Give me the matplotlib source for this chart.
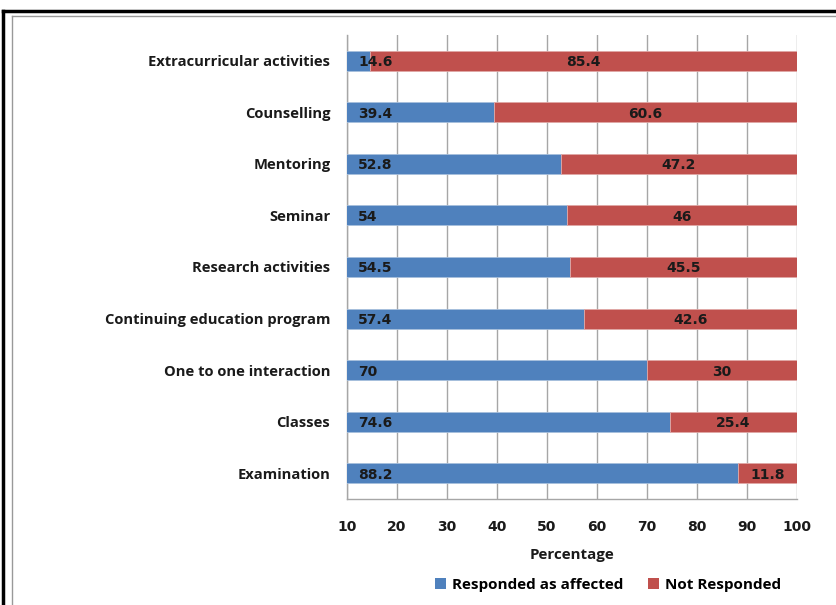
import matplotlib
matplotlib.use("Agg")
import matplotlib.pyplot as plt
from matplotlib.lines import Line2D
from matplotlib.patches import Patch

categories = ["Extracurricular activities", "Counselling", "Mentoring", "Seminar",
              "Research activities", "Continuing education program",
              "One to one interaction", "Classes", "Examination"]
responded = [14.6, 39.4, 52.8, 54, 54.5, 57.4, 70, 74.6, 88.2]
not_responded = [85.4, 60.6, 47.2, 46, 45.5, 42.6, 30, 25.4, 11.8]
xticks = [10, 20, 30, 40, 50, 60, 70, 80, 90, 100]

BLUE = "#4F81BD"
RED = "#C0504D"
TXT = "#1a1a1a"
plt.rcParams["font.family"] = ["Open Sans", "DejaVu Sans"]
WIDE = ["DejaVu Sans"]   # numbers look wide, like Verdana

fig = plt.figure(figsize=(8.37, 6.05), dpi=100)
ax = fig.add_axes([347 / 837, 1 - 499 / 605, 450 / 837, 464 / 605])

y = list(range(len(categories)))
ax.barh(y, responded, height=0.39, color=BLUE, edgecolor="#a7bfdc",
        linewidth=0.6, zorder=3)
ax.barh(y, not_responded, left=responded, height=0.39, color=RED,
        edgecolor="#e0a8a6", linewidth=0.6, zorder=3)

for i, (b, r) in enumerate(zip(responded, not_responded)):
    ax.text(12.2, i, f"{b:g}", ha="left", va="center_baseline", fontsize=10,
            fontweight="bold", color=TXT, zorder=4, family=WIDE)
    ax.text(b + r / 2, i, f"{r:g}", ha="center", va="center_baseline", fontsize=10,
            fontweight="bold", color=TXT, zorder=4, family=WIDE)

ax.set_xlim(10, 100)
ax.set_ylim(len(categories) - 0.5, -0.5)
ax.set_xticks(xticks)
ax.set_yticks(y)
ax.set_yticklabels(categories, fontsize=10.6, fontweight="bold", color=TXT)
ax.tick_params(axis="y", length=0, pad=12)
ax.tick_params(axis="x", length=0, pad=15, labelsize=10)
for lab in ax.get_xticklabels():
    lab.set_fontweight("bold")
    lab.set_color(TXT)
    lab.set_family(WIDE)
ax.grid(axis="x", color="#a6a6a6", linewidth=1.0, zorder=0)
for s in ["top", "right"]:
    ax.spines[s].set_visible(False)
for s in ["left", "bottom"]:
    ax.spines[s].set_color("#a6a6a6")
    ax.spines[s].set_linewidth(1.0)
ax.set_xlabel("Percentage", fontsize=10.9, fontweight="bold", color=TXT, labelpad=10)

handles = [Patch(facecolor=BLUE, label="Responded as affected"),
           Patch(facecolor=RED, label="Not Responded")]
fig.legend(handles=handles, loc="center", bbox_to_anchor=(0.7264, 0.033), ncol=2,
           frameon=False, prop={"weight": "bold", "size": 11},
           handlelength=0.7, handleheight=0.7, columnspacing=1.6, handletextpad=0.4)

# outer frame (thick black + thin grey), cropped on the right and bottom
fig.add_artist(Line2D([3 / 837, 3 / 837], [0, 1 - 11 / 605], color="black",
                      linewidth=2.5, transform=fig.transFigure))
fig.add_artist(Line2D([3 / 837, 1], [1 - 11 / 605, 1 - 11 / 605], color="black",
                      linewidth=2.5, transform=fig.transFigure))
fig.add_artist(Line2D([12 / 837, 12 / 837], [0, 1 - 16 / 605], color="#999999",
                      linewidth=1.0, transform=fig.transFigure))
fig.add_artist(Line2D([12 / 837, 1], [1 - 16 / 605, 1 - 16 / 605], color="#999999",
                      linewidth=1.0, transform=fig.transFigure))

fig.savefig("out.png", dpi=100)
